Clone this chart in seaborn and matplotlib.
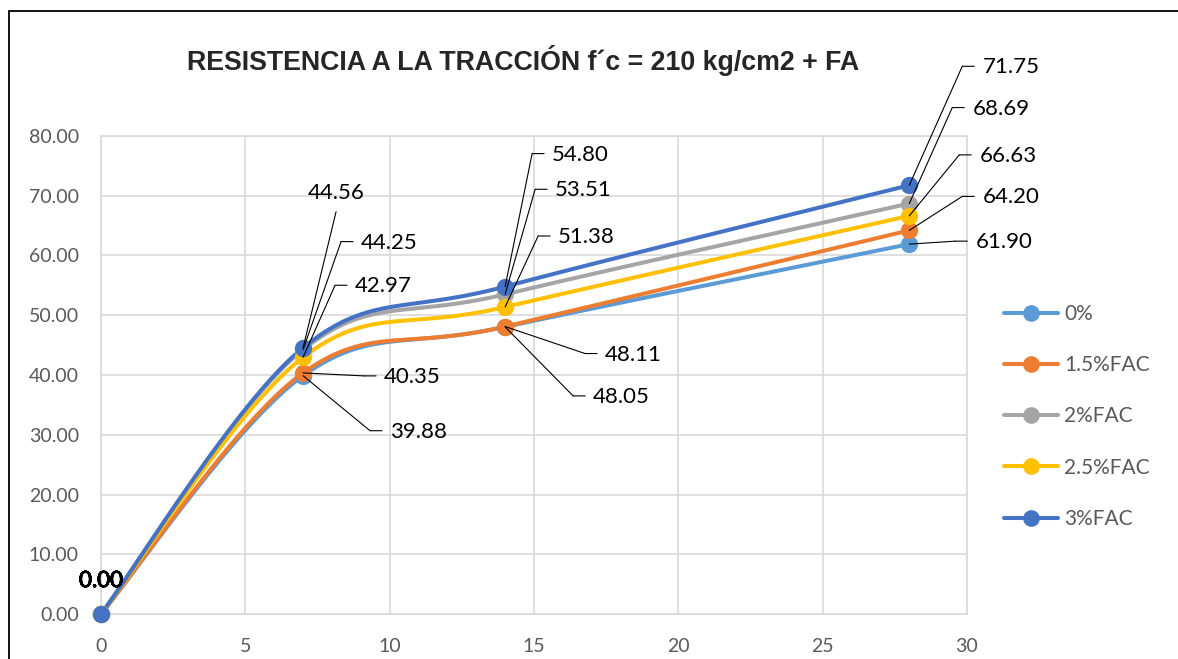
import numpy as np
import pandas as pd
import matplotlib
matplotlib.use("Agg")
import matplotlib.pyplot as plt
import matplotlib.patches as mpatches
import matplotlib.patheffects as pe
from matplotlib.lines import Line2D
from matplotlib.transforms import offset_copy
import seaborn as sns

# ---------------- data ----------------
days = [0, 7, 14, 28]
series_names = ["0%", "1.5%FAC", "2%FAC", "2.5%FAC", "3%FAC"]
s_0 = [0.00, 39.88, 48.05, 61.90]
s_15 = [0.00, 40.35, 48.11, 64.20]
s_2 = [0.00, 44.25, 53.51, 68.69]
s_25 = [0.00, 42.97, 51.38, 66.63]
s_3 = [0.00, 44.56, 54.80, 71.75]
values = [s_0, s_15, s_2, s_25, s_3]
colors = ["#5B9BD5", "#ED7D31", "#A5A5A5", "#FFC000", "#4472C4"]
title = "RESISTENCIA A LA TRACCIÓN f´c = 210 kg/cm2 + FA"
x_ticks = [0, 5, 10, 15, 20, 25, 30]
y_ticks = [0, 10, 20, 30, 40, 50, 60, 70, 80]

# label layout: (series index, day index) -> (dx px, dy px (down), style)
label_layout = {
    (4, 1): (33, -155, "above"),
    (2, 1): (58, -107, "tick"),
    (3, 1): (52, -71, "tick"),
    (1, 1): (81, 4, "tick"),
    (0, 1): (87, 56, "tick"),
    (4, 2): (47, -132, "tick"),
    (2, 2): (50, -104, "tick"),
    (3, 2): (53, -70, "tick"),
    (1, 2): (100, 28, "tick"),
    (0, 2): (88, 70, "tick"),
    (4, 3): (73, -118, "tick"),
    (2, 3): (63, -95, "tick"),
    (3, 3): (70, -60, "tick"),
    (1, 3): (73, -33, "tick"),
    (0, 3): (66, -2, "tick"),
}


def excel_smooth(xs, ys, n=60):
    P = np.column_stack([xs, ys]).astype(float)
    out = []
    for i in range(len(P) - 1):
        p0 = P[i - 1] if i > 0 else P[i]
        p1 = P[i]
        p2 = P[i + 1]
        p3 = P[i + 2] if i + 2 < len(P) else P[i + 1]
        c1 = p1 + (p2 - p0) / 6
        c2 = p2 - (p3 - p1) / 6
        t = np.linspace(0, 1, n)[:, None]
        seg = (1 - t) ** 3 * p1 + 3 * (1 - t) ** 2 * t * c1 + 3 * (1 - t) * t ** 2 * c2 + t ** 3 * p2
        out.append(seg if i == 0 else seg[1:])
    return np.vstack(out)


rows = []
for name, vals in zip(series_names, values):
    sm = excel_smooth(days, vals)
    for k, (xx, yy) in enumerate(sm):
        rows.append({"series": name, "x": xx, "y": yy, "k": k})
df_smooth = pd.DataFrame(rows)
df_pts = pd.DataFrame([{"series": n, "x": d, "y": v}
                       for n, vals in zip(series_names, values)
                       for d, v in zip(days, vals)])

# ---------------- style ----------------
sns.set_style("white")
plt.rcParams["font.family"] = ["Lato", "DejaVu Sans"]

fig = plt.figure(figsize=(11.78, 6.59), dpi=100)
ax = fig.add_axes([101 / 1178, 1 - 614 / 659, (967 - 101) / 1178, (614 - 136) / 659])

palette = dict(zip(series_names, colors))
for name in series_names:
    sub = df_smooth[df_smooth.series == name]
    sns.lineplot(data=sub, x="x", y="y", color=palette[name], lw=2.9, sort=False,
                 estimator=None, ax=ax, legend=False, zorder=3)
    sp = df_pts[df_pts.series == name]
    sns.scatterplot(data=sp, x="x", y="y", color=palette[name], s=155,
                    edgecolor=palette[name], linewidth=0, ax=ax, legend=False,
                    zorder=4, clip_on=False)

ax.set_xlim(0, 30)
ax.set_ylim(0, 80)
ax.set_xticks(x_ticks)
ax.set_yticks(y_ticks)
ax.set_yticklabels([f"{v:.2f}" for v in y_ticks])
ax.set_xticklabels([str(v) for v in x_ticks])
ax.tick_params(axis="both", length=0, labelsize=14, labelcolor="#595959")
ax.tick_params(axis="y", pad=16)
ax.tick_params(axis="x", pad=17)
ax.set_xlabel("")
ax.set_ylabel("")
ax.grid(True, color="#D9D9D9", lw=1.2)
ax.set_axisbelow(True)
for sp_name, spine in ax.spines.items():
    spine.set_color("#D9D9D9")
    spine.set_linewidth(1.2)

# ---------------- data labels ----------------
def off(dx, dy):
    return offset_copy(ax.transData, fig=fig, x=dx, y=-dy, units="dots")

lab_fs = 16
for (si, di), (dx, dy, style) in label_layout.items():
    x = days[di]
    v = values[si][di]
    txt = f"{v:.2f}"
    if style == "above":
        ax.text(x, v, txt, transform=off(dx, dy), ha="center", va="center",
                fontsize=lab_fs, color="black", zorder=6)
        ax.annotate("", xy=(x, v), xycoords="data", xytext=(x, v),
                    textcoords=off(dx, dy + 19),
                    arrowprops=dict(arrowstyle="-", color="black", lw=0.8,
                                    shrinkA=0, shrinkB=0), zorder=5)
    else:
        ax.text(x, v, txt, transform=off(dx, dy), ha="left", va="center",
                fontsize=lab_fs, color="black", zorder=6)
        ax.annotate("", xy=(x, v), xycoords="data", xytext=(x, v),
                    textcoords=off(dx - 20, dy - 1),
                    arrowprops=dict(arrowstyle="-", color="black", lw=0.8,
                                    shrinkA=0, shrinkB=0), zorder=5)
        ax.annotate("", xy=(x, v), xycoords=off(dx - 8, dy - 1), xytext=(x, v),
                    textcoords=off(dx - 20, dy - 1),
                    arrowprops=dict(arrowstyle="-", color="black", lw=0.8,
                                    shrinkA=0, shrinkB=0), zorder=5)

# the overlapping "0.00" labels at day 0
for si in range(len(values)):
    ax.text(days[0], values[si][0], f"{values[si][0]:.2f}", transform=off(0, -33),
            ha="center", va="center", fontsize=lab_fs, color="black", zorder=6,
            path_effects=[pe.withStroke(linewidth=0.4, foreground="black")])

# ---------------- legend ----------------
handles = [Line2D([0], [0], color=c, lw=2.9, marker="o", markersize=11) for c in colors]
leg = fig.legend(handles, series_names, loc="center left",
                 bbox_to_anchor=(1004 / 1178, 1 - 416.5 / 659), frameon=False,
                 fontsize=15, handlelength=2.6, handletextpad=0.3,
                 labelspacing=1.5, borderpad=0, borderaxespad=0)
for t in leg.get_texts():
    t.set_color("#595959")

# ---------------- title and outer frame ----------------
fig.text(523 / 1178, 1 - 61 / 659, title, ha="center", va="center",
         fontsize=19.3, fontweight="bold", family=["Liberation Sans", "DejaVu Sans"])

frame = mpatches.Rectangle((9 / 1178, -0.05), 1.2, 1 - 11 / 659 + 0.05,
                           transform=fig.transFigure, fill=False, edgecolor="black",
                           lw=1.3, clip_on=False)
fig.patches.append(frame)

fig.savefig("out.png", dpi=100)
